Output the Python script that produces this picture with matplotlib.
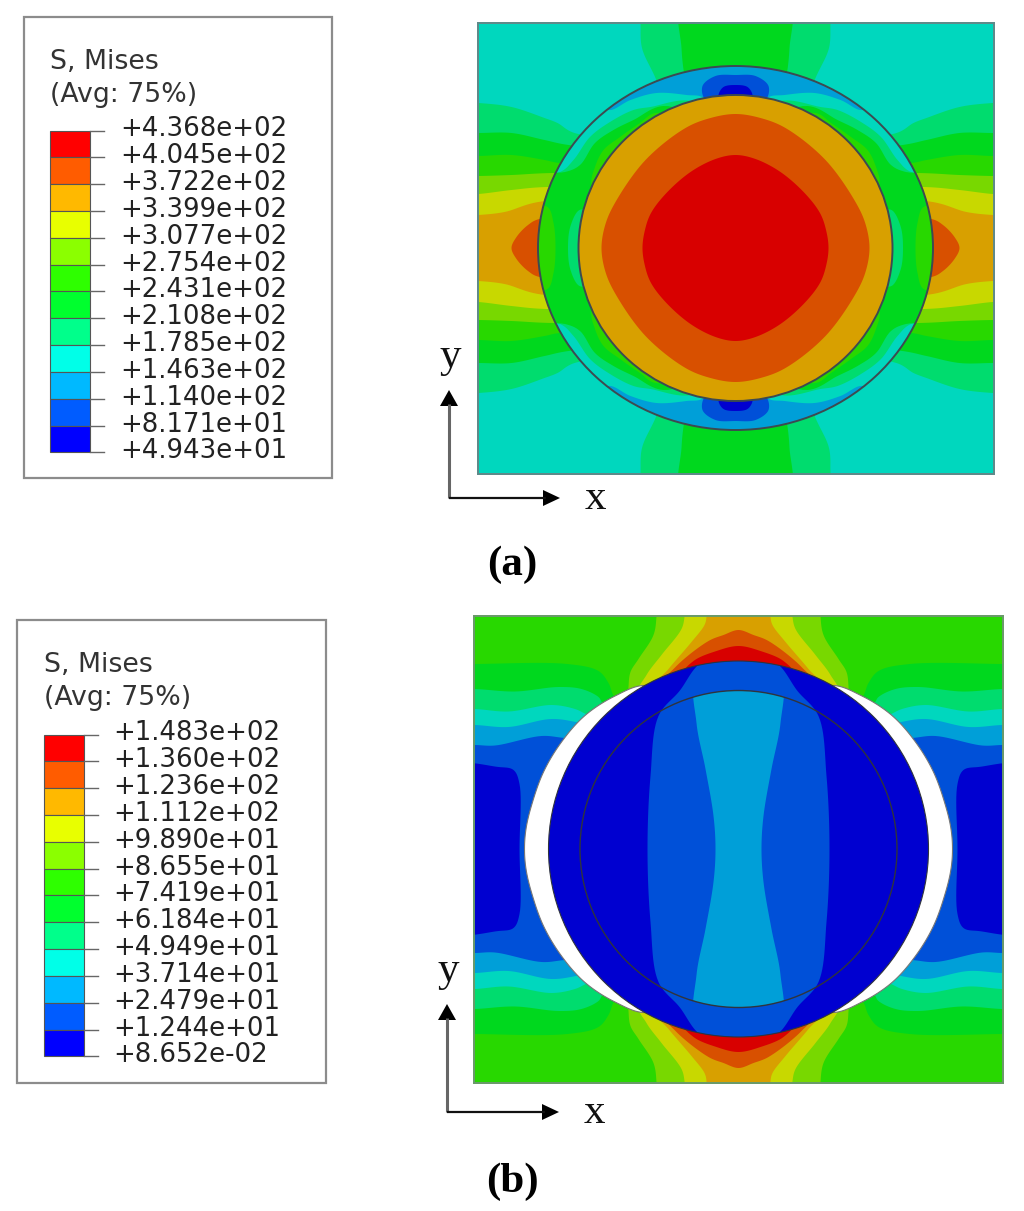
import numpy as np
import matplotlib
matplotlib.use("Agg")
import matplotlib.pyplot as plt
from matplotlib.patches import Polygon, Ellipse, Rectangle

# legend values, top to bottom
values_a = [4.368e2, 4.045e2, 3.722e2, 3.399e2, 3.077e2, 2.754e2, 2.431e2, 2.108e2, 1.785e2, 1.463e2, 1.140e2, 8.171e1, 4.943e1]
values_b = [1.483e2, 1.360e2, 1.236e2, 1.112e2, 9.890e1, 8.655e1, 7.419e1, 6.184e1, 4.949e1, 3.714e1, 2.479e1, 1.244e1, 8.652e-2]
legend_colors = ['#ff0000', '#ff5c00', '#ffb900', '#e8ff00', '#8bff00', '#2eff00', '#00ff2e', '#00ff8b', '#00ffe8', '#00b9ff', '#005cff', '#0000ff']

# colours of the contour bands in the plots, as they look in the picture
RED = '#d80000'
REDOR = '#d85000'
ORANGE = '#d8a000'
YELLOW = '#c8d800'
LIME = '#78d800'
GRASS = '#28d800'
GREEN = '#00d81e'
TEAL = '#00dc6e'
CYAN = '#00d7be'
SKY = '#009fd8'
BLUE = '#0050d8'
NAVY = '#0000d0'

# contour outlines, offsets from the centre of each plot
# "band" = one quarter, mirrored both ways; "caps"/"lobes" = half an outline, twice
a_side_bands = [
    (TEAL, [(0, -100), (-161, -115), (-178, -125), (-191, -130), (-224, -141), (-257, -145), (-285, -146), (-285, 0)]),
    (GREEN, [(0, -90), (-167, -103), (-191, -108), (-224, -115), (-257, -115), (-285, -115), (-285, 0)]),
    (GRASS, [(0, -80), (-176, -85), (-191, -88), (-224, -93), (-257, -92), (-285, -92), (-285, 0)]),
    (LIME, [(0, -72), (-182, -75), (-224, -73), (-257, -72), (-285, -72), (-285, 0)]),
    (YELLOW, [(0, -58), (-189, -61), (-224, -58), (-257, -54), (-285, -53), (-285, 0)]),
    (ORANGE, [(0, -45), (-194, -46.5), (-231, -36), (-257, -33), (-285, -32), (-285, 0)]),
    (REDOR, [(0, -30), (-100, -30), (-196, -29), (-207.5, -23), (-219, -11), (-224, 0)]),
]
a_top_bands = [
    (TEAL, [(0, -245), (-96, -245), (-95, -225), (-93.5, -200), (-80, -170), (-60, -120), (0, -100)]),
    (GREEN, [(0, -245), (-54, -245), (-54, -200), (-51, -172), (-40, -120), (0, -100)]),
]
a_ring_bands = [
    (TEAL, [(0, -120), (-45, -147), (-85, -141), (-102, -138), (-125.5, -126), (-145.5, -111), (-162, -88), (-175.5, -76), (-230, -70), (-230, 0)]),
    (GREEN, [(0, -120), (-72, -142), (-102, -128), (-122, -118), (-140.5, -105), (-155.5, -83), (-170.5, -76), (-230, -72), (-230, 0)]),
    (GRASS, [(0, -120), (-80, -135), (-95.5, -125), (-115.5, -111), (-132, -98), (-140.5, -81), (-144, -63), (-130, -40), (-100, 0)]),
]
a_ring_caps = [
    (SKY, [(0, -200), (-100, -200), (-140, -152), (-127, -138), (-105, -148), (-79, -155), (-49, -153), (-32, -150), (-20, -120), (0, -100)]),
    (BLUE, [(0, -173), (-20, -172), (-33, -162), (-30, -148), (0, -140)]),
    (NAVY, [(0, -163), (-12, -161), (-17, -153), (-15, -145), (0, -140)]),
]
a_ring_lobes = [
    (GRASS, [(-180, 0), (-182, -25), (-188, -41), (-210, -41), (-210, 0)]),
    (TEAL, [(-167.5, 0), (-165, -22), (-156, -38), (-145, -36), (-140, 0)]),
]
a_core_bands = [
    (REDOR, [(0, -134), (-25, -130), (-50, -120), (-90, -88), (-120, -46), (-130, -24), (-134, 0)]),
    (RED, [(0, -93), (-20, -89), (-45, -76), (-70, -54), (-85, -34), (-91, -16), (-93, 0)]),
]

b_side_bands = [
    (GREEN, [(0, -100), (-100, -130), (-124, -152), (-130, -166), (-140, -178), (-171, -185), (-265, -185), (-290, -185), (-290, 0)]),
    (TEAL, [(0, -100), (-100, -130), (-135, -145), (-140, -152), (-157, -160), (-180, -162), (-223.5, -157.5), (-263.5, -160), (-290, -160), (-290, 0)]),
    (CYAN, [(0, -100), (-100, -120), (-150, -134), (-163.5, -140), (-187, -144), (-230, -137.5), (-263.5, -140), (-290, -140), (-290, 0)]),
    (SKY, [(0, -100), (-100, -115), (-157, -126), (-187, -130), (-230, -122), (-263.5, -124), (-290, -124), (-290, 0)]),
    (BLUE, [(0, -90), (-100, -105), (-173.5, -111), (-197, -113), (-243.5, -103.5), (-263.5, -104), (-290, -104), (-290, 0)]),
]
b_side_lobes = [
    (NAVY, [(-219, 0), (-219, -65), (-225, -79), (-240, -82), (-290, -82), (-290, 0)]),
]
b_top_caps = [
    (LIME, [(0, -250), (-82, -250), (-82, -233), (-85, -214), (-100, -190), (-108, -177), (-110, -162), (-110, -140), (0, -120)]),
    (YELLOW, [(0, -250), (-53, -250), (-54, -232), (-57, -220), (-77, -194), (-92, -174), (-100, -155), (0, -120)]),
    (ORANGE, [(0, -250), (-32, -250), (-32, -232), (-34, -224), (-47, -207), (-70, -180), (-85, -160), (0, -125)]),
    (REDOR, [(0, -219), (-15, -214), (-30, -208), (-63, -182), (-75, -165), (0, -130)]),
    (RED, [(0, -203), (-22, -198), (-45, -188), (-55, -175), (0, -150)]),
]
b_hole = [(0, -130), (-60, -150), (-93.5, -163.5), (-123.5, -153), (-153.5, -133.5), (-177, -107), (-195, -77), (-207, -43.5), (-212.5, -20), (-214, 0)]
b_disc_bands = [
    (BLUE, [(0, -200), (-38, -186), (-59, -158), (-80, -133), (-88, -73), (-91, 0)]),
]
b_core_bands = [
    (SKY, [(0, -170), (-42, -170), (-42, -126), (-33, -80), (-25, -33), (-23, 0)]),
]


def spline(points):
    # closed centripetal Catmull-Rom through the points
    pts = np.array(points, dtype=float)
    n = len(pts)
    out = []
    for i in range(n):
        p0, p1, p2, p3 = pts[i - 1], pts[i], pts[(i + 1) % n], pts[(i + 2) % n]
        t0 = 0.0
        t1 = t0 + np.linalg.norm(p1 - p0) ** 0.5
        t2 = t1 + np.linalg.norm(p2 - p1) ** 0.5
        t3 = t2 + np.linalg.norm(p3 - p2) ** 0.5
        for t in np.linspace(t1, t2, 12, endpoint=False):
            a1 = (t1 - t) / (t1 - t0) * p0 + (t - t0) / (t1 - t0) * p1
            a2 = (t2 - t) / (t2 - t1) * p1 + (t - t1) / (t2 - t1) * p2
            a3 = (t3 - t) / (t3 - t2) * p2 + (t - t2) / (t3 - t2) * p3
            b1 = (t2 - t) / (t2 - t0) * a1 + (t - t0) / (t2 - t0) * a2
            b2 = (t3 - t) / (t3 - t1) * a2 + (t - t1) / (t3 - t1) * a3
            out.append((t2 - t) / (t2 - t1) * b1 + (t - t1) / (t2 - t1) * b2)
    return np.array(out)


def band_outline(quarter):
    half = list(quarter) + [(x, -y) for x, y in reversed(quarter[:-1])]
    return [half + [(-x, y) for x, y in reversed(half[1:-1])]]


def caps_outline(half):
    whole = list(half) + [(-x, y) for x, y in reversed(half[1:-1])]
    return [whole, [(x, -y) for x, y in whole]]


def lobes_outline(half):
    whole = list(half) + [(x, -y) for x, y in reversed(half[1:-1])]
    return [whole, [(-x, y) for x, y in whole]]


def paint(ax, center, regions, outline, clip):
    for color, pts in regions:
        for shape in outline(pts):
            poly = Polygon(spline(shape) + center, closed=True, fc=color, ec='none')
            ax.add_patch(poly)
            poly.set_clip_path(clip)


def draw_legend(ax, box, bar_x, bar_top, text_x, title_y, values):
    x0, y0, x1, y1 = box
    ax.add_patch(Rectangle((x0, y0), x1 - x0, y1 - y0, fc='white', ec='#8c8c8c', lw=1.6))
    ax.text(bar_x, title_y, 'S, Mises', fontsize=19.3, color='#333333', va='center', ha='left')
    ax.text(bar_x, title_y + 33, '(Avg: 75%)', fontsize=19.3, color='#333333', va='center', ha='left')
    step = 26.83
    edges = bar_top + step * np.arange(len(values))
    ax.bar([bar_x] * len(legend_colors), [step] * len(legend_colors), width=40, bottom=edges[:-1], align='edge',
           color=legend_colors, edgecolor='#555555', linewidth=0.8)
    for y, v in zip(edges, values):
        ax.plot([bar_x + 40, bar_x + 54], [y, y], color='#666666', lw=1)
        ax.text(text_x, y - 1, f"{v:+.3e}", fontsize=18.7, color='#222222', va='center', ha='left')


def draw_axes_arrows(ax, x0, y0, y_tip, x_tip, letter, label_y):
    ax.plot([x0, x0], [y0, y_tip + 14], color='#666666', lw=2.2, solid_capstyle='butt')
    ax.plot([x0, x_tip - 14], [y0, y0], color='#111111', lw=1.6, solid_capstyle='butt')
    ax.add_patch(Polygon([(x0, y_tip), (x0 - 9, y_tip + 16), (x0 + 9, y_tip + 16)], fc='black', ec='none'))
    ax.add_patch(Polygon([(x_tip, y0), (x_tip - 17, y0 - 8), (x_tip - 17, y0 + 8)], fc='black', ec='none'))
    ax.text(x0 + 1, y_tip - 33, 'y', family='Liberation Serif', fontsize=31, color='#111111', ha='center', va='center')
    ax.text(x_tip + 35, y0 + 1, 'x', family='Liberation Serif', fontsize=31, color='#111111', ha='center', va='center')
    ax.text(512, label_y, f'({letter})', family='Liberation Serif', fontsize=31, fontweight='bold', color='black', ha='center', va='center')


fig = plt.figure(figsize=(10.24, 12.11), dpi=100)
ax = fig.add_axes([0, 0, 1, 1])
ax.set_xlim(0, 1024)
ax.set_ylim(1211, 0)
ax.axis('off')

# panel a
center_a = np.array([735.5, 248.0])
plate_a = Rectangle((478, 23), 516, 451, fc=CYAN, ec='#5f8a8a', lw=1.4)
ax.add_patch(plate_a)
paint(ax, center_a, a_side_bands, band_outline, plate_a)
paint(ax, center_a, a_top_bands, caps_outline, plate_a)
ring_a = Ellipse(center_a, 395, 364, fc=CYAN, ec='none')
ax.add_patch(ring_a)
paint(ax, center_a, a_ring_bands, band_outline, ring_a)
paint(ax, center_a, a_ring_caps, caps_outline, ring_a)
paint(ax, center_a, a_ring_lobes, lobes_outline, ring_a)
core_a = Ellipse(center_a, 314, 306, fc=ORANGE, ec='none')
ax.add_patch(core_a)
paint(ax, center_a, a_core_bands, band_outline, core_a)
ax.add_patch(Ellipse(center_a, 395, 364, fc='none', ec='#3d4a50', lw=1.4))
ax.add_patch(Ellipse(center_a, 314, 306, fc='none', ec='#3d4a50', lw=1.4))
ax.add_patch(Rectangle((478, 23), 516, 451, fc='none', ec='#5f8a8a', lw=1.4))

# panel b
center_b = np.array([738.5, 849.0])
plate_b = Rectangle((474, 616), 529, 467, fc=GRASS, ec='#6a9a6a', lw=1.4)
ax.add_patch(plate_b)
paint(ax, center_b, b_side_bands, band_outline, plate_b)
paint(ax, center_b, b_side_lobes, lobes_outline, plate_b)
paint(ax, center_b, b_top_caps, caps_outline, plate_b)
hole = Polygon(spline(band_outline(b_hole)[0]) + center_b, closed=True, fc='white', ec='#777777', lw=0.8)
ax.add_patch(hole)
disc_b = Ellipse(center_b, 380, 376, fc=NAVY, ec='none')
ax.add_patch(disc_b)
paint(ax, center_b, b_disc_bands, band_outline, disc_b)
core_b = Ellipse(center_b, 317, 317, fc='none', ec='none')
ax.add_patch(core_b)
paint(ax, center_b, b_core_bands, band_outline, core_b)
ax.add_patch(Ellipse(center_b, 380, 376, fc='none', ec='#30343c', lw=0.8))
ax.add_patch(Ellipse(center_b, 317, 317, fc='none', ec='#30343c', lw=1.0))
ax.add_patch(Rectangle((474, 616), 529, 467, fc='none', ec='#6a9a6a', lw=1.4))

# legends
draw_legend(ax, (24, 17, 332, 478), 50, 130.5, 120, 62, values_a)
draw_legend(ax, (17, 620, 326, 1083), 44, 734.5, 113, 665, values_b)

draw_axes_arrows(ax, 449, 498, 390, 560, 'a', 565)
draw_axes_arrows(ax, 447, 1112, 1004, 559, 'b', 1182)

fig.savefig('out.png', dpi=100)
